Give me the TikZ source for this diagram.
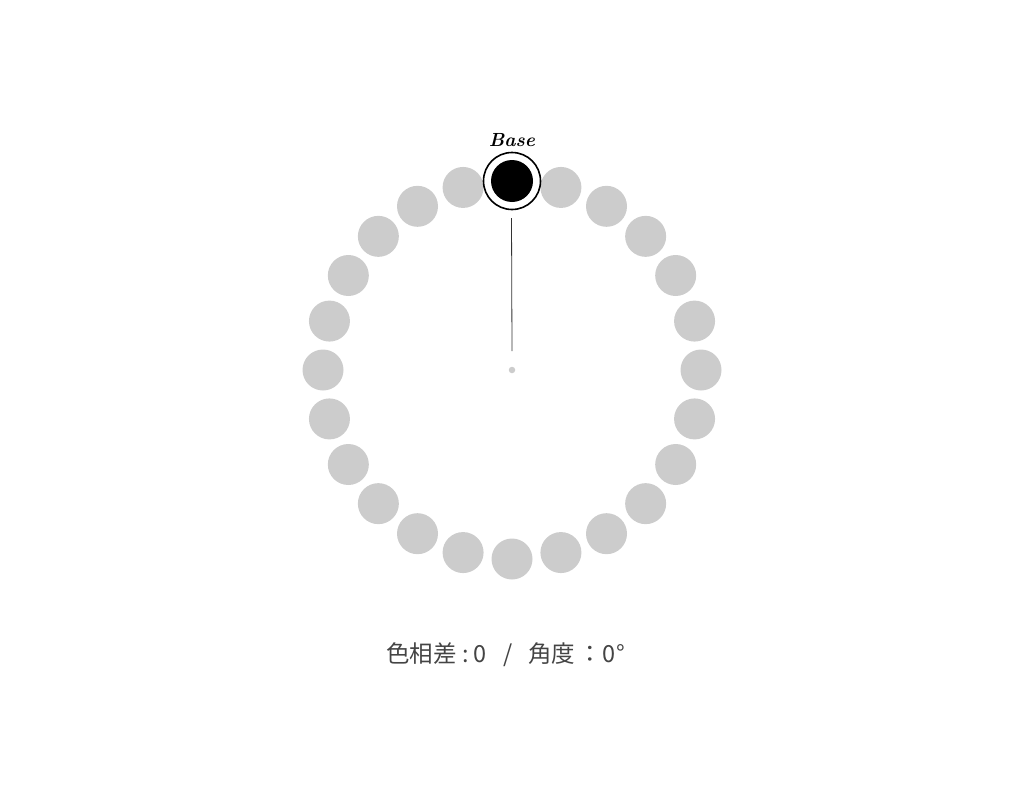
\documentclass[tikz,border=0pt]{standalone}
\usepackage{fontspec}
\usetikzlibrary{calc}
\newfontfamily\cjk{Noto Sans CJK JP}
\definecolor{dotgray}{HTML}{CCCCCC}
\definecolor{txtgray}{HTML}{444444}
\begin{document}
\begin{tikzpicture}[x=1pt,y=-1pt,
  hue/.style={circle,fill=dotgray,minimum size=41pt,inner sep=0pt},
  lbl/.style={font=\cjk\fontsize{23.5}{26}\selectfont,text=txtgray,inner sep=0pt}]
\useasboundingbox (0,0) rectangle (1024,800);
\coordinate (c) at (512,370);
\foreach \i in {1,...,23}{
  \node[hue] (h\i) at ($(c)+({189*sin(15*\i)},{-189*cos(15*\i)})$) {};
}
\node[circle,draw=black,line width=1.6pt,fill=white,minimum size=57pt,inner sep=0pt] (ring) at (512,181) {};
\node[circle,fill=black,minimum size=42pt,inner sep=0pt] (base) at (512,181) {};
\node[font=\itshape\bfseries\fontsize{19}{22}\selectfont,inner sep=0pt] (bl) at (512,140) {Base};
\node[circle,fill=dotgray,minimum size=6.5pt,inner sep=0pt] (ctr) at (c) {};
\coordinate (ls) at (511.5,218);
\coordinate (le) at (512,351);
\draw[line width=0.8pt,black!80] (ls) -- (le);
\node[lbl,anchor=west] (t) at (386,655) {色相差\hspace{6pt}:\hspace{4pt}0\hspace{17pt}/\hspace{16pt}角度\hspace{3pt}：\hspace{1pt}0°};
\end{tikzpicture}
\end{document}
